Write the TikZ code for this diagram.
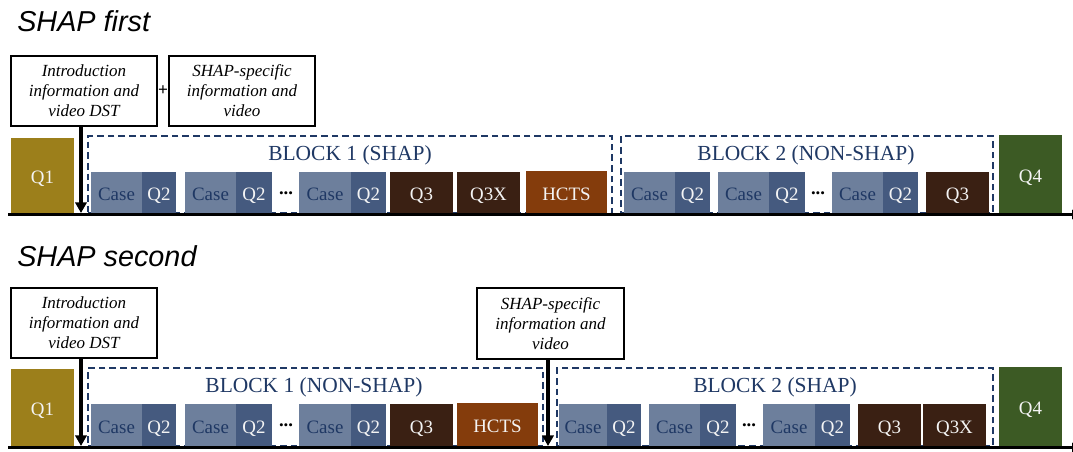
\documentclass[tikz,border=0pt]{standalone}
\usepackage{fontspec}
\setmainfont{Liberation Serif}
\newfontfamily\titlefont{Liberation Sans}
\usetikzlibrary{arrows.meta}

\definecolor{qone}{HTML}{9C7F1B}
\definecolor{casec}{HTML}{6D7F9C}
\definecolor{qtwo}{HTML}{455A7F}
\definecolor{qthree}{HTML}{3A2013}
\definecolor{hcts}{HTML}{843C0C}
\definecolor{qfour}{HTML}{3C5A24}
\definecolor{navy}{HTML}{1F3864}
\definecolor{lighttext}{HTML}{F4F4F4}

% a box given by its pixel corners: name, x1, y1, x2, y2, style, text
\newcommand\cell[7]{\node[#6, minimum width={(#4-#2)*0.75pt}, minimum height={(#5-#3)*0.75pt}] (#1) at ({(#2+#4)/2},{(#3+#5)/2}) {#7};}

\tikzset{
  cellbase/.style={inner sep=0pt, outer sep=0pt, text height=12.5pt, text depth=0pt,
    font=\fontsize{14.2}{16}\selectfont},
  casebox/.style={cellbase, fill=casec, text=navy},
  qbox/.style={cellbase, fill=#1, text=lighttext},
  blockbox/.style={inner sep=0pt, outer sep=0pt, draw=navy, line width=1.1pt, dash pattern=on 5pt off 3pt},
  blocklabel/.style={inner sep=0pt, text=navy, font=\fontsize{16.1}{18}\selectfont},
  infobox/.style={draw=black, line width=1.5pt, align=center, inner sep=0pt,
    font=\fontsize{12.75}{15}\selectfont\itshape},
  dotsnode/.style={inner sep=0pt, font=\fontsize{14}{16}\selectfont\bfseries},
  title/.style={anchor=base west, inner sep=0pt, font=\titlefont\itshape\fontsize{21.6}{24}\selectfont},
  timeaxis/.style={line width=2.3pt, -{Triangle[width=7pt,length=6pt]}},
  pointer/.style={line width=3pt, -{Triangle[width=8.5pt,length=8pt]}},
}

\begin{document}
\begin{tikzpicture}[x=0.75pt, y=-0.75pt]
\clip (0,0) rectangle (1073,452);
\fill[white] (0,0) rectangle (1073,452);

% ---------------- SHAP first ----------------
\node[title] (t1) at (17,32) {SHAP first};

\cell{intro1}{11}{56}{157}{126}{infobox}{Introduction\\information and\\video DST}
\cell{shap1}{169}{56}{315}{126}{infobox}{SHAP-specific\\information and\\video}
\node[inner sep=0pt, font=\fontsize{13}{14}\selectfont\bfseries] (plus1) at (163,91) {+};

\cell{a1q1}{11}{138}{74}{213}{qbox=qone}{Q1}

\cell{a1blk1}{88}{136}{612}{213}{blockbox}{}
\node[blocklabel] (a1lab1) at (350,155) {BLOCK 1 (SHAP)};
\cell{a1c1}{91}{172}{142}{213}{casebox}{Case}
\cell{a1p1}{142}{172}{176}{213}{qbox=qtwo}{Q2}
\cell{a1c2}{185}{172}{236}{213}{casebox}{Case}
\cell{a1p2}{236}{172}{272}{213}{qbox=qtwo}{Q2}
\node[dotsnode] (a1d1) at (286,193) {...};
\cell{a1c3}{299}{172}{351}{213}{casebox}{Case}
\cell{a1p3}{351}{172}{386}{213}{qbox=qtwo}{Q2}
\cell{a1q3}{390}{172}{453}{213}{qbox=qthree}{Q3}
\cell{a1q3x}{457}{172}{520}{213}{qbox=qthree}{Q3X}
\cell{a1hc}{526}{171}{607}{213}{qbox=hcts}{HCTS}

\cell{a1blk2}{621}{136}{993}{213}{blockbox}{}
\node[blocklabel] (a1lab2) at (806,155) {BLOCK 2 (NON-SHAP)};
\cell{a1c4}{624}{172}{675}{213}{casebox}{Case}
\cell{a1p4}{675}{172}{710}{213}{qbox=qtwo}{Q2}
\cell{a1c5}{718}{172}{769}{213}{casebox}{Case}
\cell{a1p5}{769}{172}{805}{213}{qbox=qtwo}{Q2}
\node[dotsnode] (a1d2) at (818,193) {...};
\cell{a1c6}{832}{172}{883}{213}{casebox}{Case}
\cell{a1p6}{883}{172}{918}{213}{qbox=qtwo}{Q2}
\cell{a1q3b}{926}{172}{989}{213}{qbox=qthree}{Q3}

\cell{a1q4}{999}{135}{1062}{213}{qbox=qfour}{Q4}

\coordinate (ax1s) at (8,214.5);
\coordinate (ax1e) at (1080,214.5);
\draw[timeaxis] (ax1s) -- (ax1e);
\coordinate (in1) at (81,213);
\draw[pointer] (intro1.south -| in1) -- (in1);

% ---------------- SHAP second ----------------
\node[title] (t2) at (17,266) {SHAP second};

\cell{intro2}{11}{288}{157}{358}{infobox}{Introduction\\information and\\video DST}
\cell{shap2}{477}{288}{624}{359}{infobox}{SHAP-specific\\information and\\video}

\cell{b1q1}{11}{369}{74}{446}{qbox=qone}{Q1}

\cell{b1blk1}{88}{368}{543}{446}{blockbox}{}
\node[blocklabel] (b1lab1) at (314,387) {BLOCK 1 (NON-SHAP)};
\cell{b1c1}{91}{404}{142}{446}{casebox}{Case}
\cell{b1p1}{142}{404}{176}{446}{qbox=qtwo}{Q2}
\cell{b1c2}{185}{404}{236}{446}{casebox}{Case}
\cell{b1p2}{236}{404}{272}{446}{qbox=qtwo}{Q2}
\node[dotsnode] (b1d1) at (286,425) {...};
\cell{b1c3}{299}{404}{351}{446}{casebox}{Case}
\cell{b1p3}{351}{404}{386}{446}{qbox=qtwo}{Q2}
\cell{b1q3}{390}{404}{453}{446}{qbox=qthree}{Q3}
\cell{b1hc}{457}{403}{538}{446}{qbox=hcts}{HCTS}

\cell{b1blk2}{557}{368}{993}{446}{blockbox}{}
\node[blocklabel] (b1lab2) at (775,387) {BLOCK 2 (SHAP)};
\cell{b1c4}{559}{404}{607}{446}{casebox}{Case}
\cell{b1p4}{607}{404}{641}{446}{qbox=qtwo}{Q2}
\cell{b1c5}{649}{404}{700}{446}{casebox}{Case}
\cell{b1p5}{700}{404}{736}{446}{qbox=qtwo}{Q2}
\node[dotsnode] (b1d2) at (749,425) {...};
\cell{b1c6}{763}{404}{815}{446}{casebox}{Case}
\cell{b1p6}{815}{404}{850}{446}{qbox=qtwo}{Q2}
\cell{b1q3b}{858}{404}{921}{446}{qbox=qthree}{Q3}
\cell{b1q3x}{923}{404}{986}{446}{qbox=qthree}{Q3X}

\cell{b1q4}{999}{367}{1062}{446}{qbox=qfour}{Q4}

\coordinate (ax2s) at (8,447.5);
\coordinate (ax2e) at (1080,447.5);
\draw[timeaxis] (ax2s) -- (ax2e);
\coordinate (in2) at (81,446);
\draw[pointer] (intro2.south -| in2) -- (in2);
\coordinate (in3) at (548,446);
\draw[pointer] (shap2.south -| in3) -- (in3);
\end{tikzpicture}
\end{document}
